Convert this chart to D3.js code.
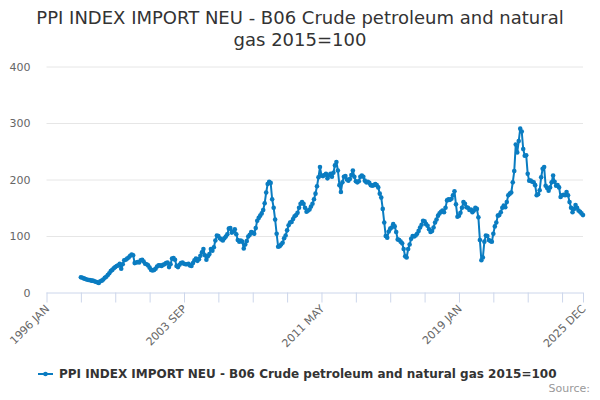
<!DOCTYPE html>
<html>
<head>
<meta charset="utf-8">
<script src="https://cdn.jsdelivr.net/npm/d3@7"></script>
<style>
  body { margin: 0; background: #fff; }
  svg { display: block; font-family: "DejaVu Sans", sans-serif; }
</style>
</head>
<body>
<svg width="600" height="400"></svg>
<script>
const width = 600;
const height = 400;

// months counted from 1996 JAN; series starts 1997 DEC
var startMonth = 23;
var monthNames = ["JAN","FEB","MAR","APR","MAY","JUN","JUL","AUG","SEP","OCT","NOV","DEC"];

var v1997 = [27];
var v1998 = [26, 25, 24, 23, 22, 22, 21, 21, 20, 19, 18, 17];
var v1999 = [20, 21, 23, 26, 28, 31, 34, 38, 40, 43, 45, 47];
var v2000 = [48, 51, 42, 50, 57, 58, 60, 62, 65, 67, 66, 52];
var v2001 = [53, 54, 53, 57, 58, 55, 51, 50, 48, 44, 40, 39];
var v2002 = [40, 42, 46, 48, 48, 47, 49, 50, 52, 53, 45, 50];
var v2003 = [60, 61, 58, 47, 45, 49, 52, 53, 51, 50, 50, 51];
var v2004 = [48, 47, 52, 57, 60, 56, 59, 65, 71, 77, 66, 58];
var v2005 = [64, 68, 77, 74, 80, 92, 101, 100, 96, 94, 92, 96];
var v2006 = [99, 103, 113, 114, 106, 108, 112, 103, 93, 90, 92, 90];
var v2007 = [78, 85, 91, 99, 102, 107, 106, 104, 114, 127, 132, 136];
var v2008 = [140, 146, 158, 177, 192, 196, 194, 165, 150, 129, 104, 81];
var v2009 = [82, 85, 88, 96, 101, 110, 119, 124, 125, 130, 135, 137];
var v2010 = [141, 150, 157, 160, 157, 150, 143, 145, 147, 152, 157, 165];
var v2011 = [175, 188, 204, 222, 207, 206, 208, 210, 202, 207, 210, 205];
var v2012 = [212, 225, 231, 216, 190, 178, 195, 205, 206, 200, 198, 201];
var v2013 = [208, 216, 205, 197, 195, 197, 205, 207, 205, 198, 195, 196];
var v2014 = [194, 190, 189, 190, 192, 190, 186, 175, 168, 148, 124, 100];
var v2015 = [97, 108, 113, 115, 121, 117, 107, 94, 93, 90, 87, 77];
var v2016 = [64, 62, 77, 85, 95, 100, 99, 101, 104, 109, 115, 120];
var v2017 = [127, 126, 121, 118, 112, 107, 109, 115, 124, 129, 136, 140];
var v2018 = [143, 145, 142, 150, 163, 165, 164, 166, 172, 179, 156, 134];
var v2019 = [136, 141, 150, 160, 157, 151, 150, 146, 147, 142, 145, 150];
var v2020 = [148, 133, 93, 57, 62, 90, 101, 100, 93, 91, 90, 104];
var v2021 = [117, 124, 136, 137, 142, 150, 154, 151, 160, 172, 175, 177];
var v2022 = [195, 215, 262, 248, 268, 290, 285, 254, 242, 243, 210, 198];
var v2023 = [198, 196, 195, 190, 172, 174, 181, 204, 219, 222, 189, 185];
var v2024 = [180, 186, 195, 207, 196, 189, 190, 186, 169, 172, 173, 172];
var v2025 = [178, 172, 160, 150, 142, 148, 155, 150, 145, 143, 140, 137];

var values = [].concat(v1997, v1998, v1999, v2000, v2001, v2002, v2003, v2004,
    v2005, v2006, v2007, v2008, v2009, v2010, v2011, v2012, v2013, v2014,
    v2015, v2016, v2017, v2018, v2019, v2020, v2021, v2022, v2023, v2024, v2025);

var lastMonth = 359; // 2025 DEC
var tickStep = 23;
var labelMonths = [0, 92, 184, 276, 359];
var yTicks = [0, 100, 200, 300, 400];

var titleLines = ["PPI INDEX IMPORT NEU - B06 Crude petroleum and natural", "gas 2015=100"];
var seriesName = "PPI INDEX IMPORT NEU - B06 Crude petroleum and natural gas 2015=100";
var color = "#0a7cc1";

var data = values.map(function (v, i) { return { m: startMonth + i, v: v }; });

var svg = d3.select("svg");

var x = d3.scaleLinear().domain([0, lastMonth]).range([46.5, 583]);
var y = d3.scaleLinear().domain([0, 400]).range([292.5, 66.5]);

function monthLabel(m) {
    return (1996 + Math.floor(m / 12)) + " " + monthNames[m % 12];
}

// title
svg.append("g").selectAll("text")
    .data(titleLines)
    .join("text")
    .attr("x", width / 2)
    .attr("y", function (d, i) { return 24 + i * 22; })
    .attr("text-anchor", "middle")
    .attr("font-size", 18)
    .attr("fill", "#333333")
    .text(function (d) { return d; });

// grid + y labels
var yAxis = d3.axisLeft(y).tickValues(yTicks).tickSize(-(583 - 46.5)).tickPadding(16);
svg.append("g")
    .attr("transform", "translate(46.5,0)")
    .call(yAxis)
    .call(function (g) {
        g.select(".domain").remove();
        g.selectAll(".tick line").attr("stroke", "#e6e6e6");
        g.selectAll(".tick text").attr("fill", "#666666").attr("font-size", 11)
            .attr("font-family", "DejaVu Sans, sans-serif");
        g.selectAll(".tick").filter(function (d) { return d === 0; }).select("line").remove();
    });

// x axis
var tickVals = d3.range(0, lastMonth, tickStep).concat([lastMonth]);
var xAxis = d3.axisBottom(x).tickValues(tickVals).tickSize(10)
    .tickFormat(function (d) { return labelMonths.indexOf(d) >= 0 ? monthLabel(d) : ""; });
svg.append("g")
    .attr("transform", "translate(0,292.5)")
    .call(xAxis)
    .call(function (g) {
        g.select(".domain").attr("stroke", "#ccd6eb").attr("d", "M46.5,0.5H583");
        g.selectAll(".tick line").attr("stroke", "#ccd6eb");
        g.selectAll(".tick text")
            .attr("fill", "#666666")
            .attr("font-size", 11)
            .attr("font-family", "DejaVu Sans, sans-serif")
            .attr("text-anchor", "end")
            .attr("dy", null)
            .attr("y", 0)
            .attr("transform", "translate(3,17) rotate(-45)");
    });

// series
var line = d3.line()
    .x(function (d) { return x(d.m); })
    .y(function (d) { return y(d.v); });

svg.append("path")
    .datum(data)
    .attr("fill", "none")
    .attr("stroke", color)
    .attr("stroke-width", 2)
    .attr("stroke-linejoin", "round")
    .attr("d", line);

svg.append("g").selectAll("circle")
    .data(data)
    .join("circle")
    .attr("cx", function (d) { return x(d.m); })
    .attr("cy", function (d) { return y(d.v); })
    .attr("r", 2.3)
    .attr("fill", color);

// legend
var legend = svg.append("g");
legend.append("line")
    .attr("x1", 38).attr("x2", 53).attr("y1", 374).attr("y2", 374)
    .attr("stroke", color).attr("stroke-width", 2);
legend.append("circle")
    .attr("cx", 45.5).attr("cy", 374).attr("r", 2.3).attr("fill", color);
legend.append("text")
    .attr("x", 59).attr("y", 378)
    .attr("font-size", 12).attr("font-weight", "bold")
    .attr("fill", "#333333")
    .text(seriesName);

// credits
svg.append("text")
    .attr("x", 590).attr("y", 392)
    .attr("text-anchor", "end")
    .attr("font-size", 11)
    .attr("fill", "#999999")
    .text("Source:");
</script>
</body>
</html>
